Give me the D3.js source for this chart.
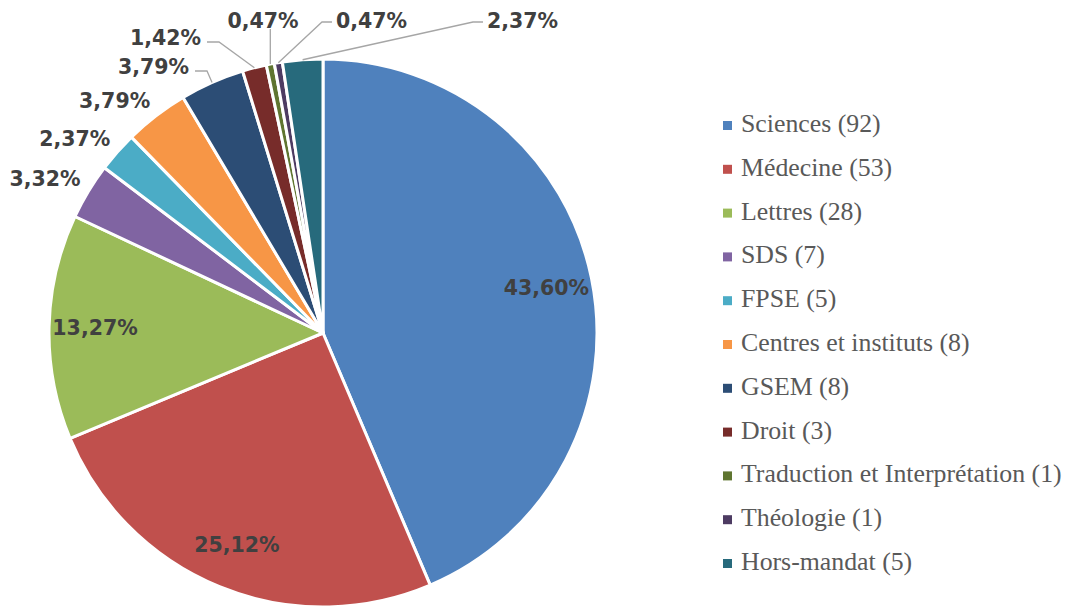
<!DOCTYPE html>
<html>
<head>
<meta charset="utf-8">
<script src="https://cdn.jsdelivr.net/npm/d3@7"></script>
<style>
  body { margin: 0; background: #fff; }
</style>
</head>
<body>
<script>
var width = 1073, height = 608;

var categories = ["Sciences", "Médecine", "Lettres", "SDS", "FPSE", "Centres et instituts",
  "GSEM", "Droit", "Traduction et Interprétation", "Théologie", "Hors-mandat"];
var counts = [92, 53, 28, 7, 5, 8, 8, 3, 1, 1, 5];
var percentLabels = ["43,60%", "25,12%", "13,27%", "3,32%", "2,37%", "3,79%",
  "3,79%", "1,42%", "0,47%", "0,47%", "2,37%"];
var colors = ["#4F81BD", "#C0504D", "#9BBB59", "#8064A2", "#4BACC6", "#F79646",
  "#2C4D75", "#772C2A", "#5F7530", "#4D3B62", "#276A7C"];

// how each label is placed: inside, outside, or with a leader line
var labelMode = ["in", "in", "in", "out", "out", "out", "lead", "lead", "lead", "lead", "lead"];
var leaderSpots = {
  6: {x: 189, y: 74, anchor: "end"},
  7: {x: 201, y: 45, anchor: "end"},
  8: {x: 263, y: 28, anchor: "middle"},
  9: {x: 336, y: 28, anchor: "start"},
  10: {x: 487, y: 28, anchor: "start"}
};

var cx = 323, cy = 333, radius = 274;

var svg = d3.select("body").append("svg")
  .attr("width", width)
  .attr("height", height);

var pie = d3.pie().sort(null).value(function(d) { return d; });
var arcs = pie(counts);

var arc = d3.arc().innerRadius(0).outerRadius(radius);
var labelArc = d3.arc().innerRadius(228).outerRadius(228);
var edgeArc = d3.arc().innerRadius(radius).outerRadius(radius);
var outArc = d3.arc().innerRadius(radius + 8).outerRadius(radius + 8);

var g = svg.append("g")
  .attr("transform", "translate(" + cx + "," + cy + ")");

g.selectAll("path.slice")
  .data(arcs)
  .enter().append("path")
    .attr("class", "slice")
    .attr("d", arc)
    .attr("fill", function(d, i) { return colors[i]; })
    .attr("stroke", "#fff")
    .attr("stroke-width", 3)
    .attr("stroke-linejoin", "round");

var labelFont = "'DejaVu Sans', sans-serif";

// leader lines
arcs.forEach(function(d, i) {
  if (labelMode[i] !== "lead") return;
  var s = leaderSpots[i];
  var p = edgeArc.centroid(d);
  var px = p[0] + cx, py = p[1] + cy;
  var pts;
  if (s.anchor === "end") {
    pts = [[s.x + 6, s.y - 3], [s.x + 18, s.y - 3], [px, py]];
  } else if (s.anchor === "start") {
    pts = [[s.x - 4, s.y - 6], [s.x - 14, s.y - 6], [px, py]];
  } else {
    pts = [[px, s.y + 1], [px, py]];
  }
  svg.append("path")
    .attr("d", d3.line()(pts))
    .attr("fill", "none")
    .attr("stroke", "#A6A6A6")
    .attr("stroke-width", 1.3);
});

// percentage labels
arcs.forEach(function(d, i) {
  var t = svg.append("text")
    .attr("font-family", labelFont)
    .attr("font-weight", "bold")
    .attr("font-size", "20.5px")
    .attr("fill", "#404040")
    .text(percentLabels[i]);
  if (labelMode[i] === "in") {
    var c = labelArc.centroid(d);
    t.attr("x", c[0] + cx).attr("y", c[1] + cy)
      .attr("dy", "0.36em")
      .attr("text-anchor", "middle");
  } else if (labelMode[i] === "out") {
    var o = outArc.centroid(d);
    t.attr("x", o[0] + cx - 1).attr("y", o[1] + cy - 1)
      .attr("text-anchor", "end");
  } else {
    var s = leaderSpots[i];
    t.attr("x", s.x).attr("y", s.y).attr("text-anchor", s.anchor);
  }
});

// legend
var legend = svg.selectAll(".legend")
  .data(categories)
  .enter().append("g")
    .attr("class", "legend")
    .attr("transform", function(d, i) { return "translate(723," + (125.5 + i * 43.8) + ")"; });

legend.append("rect")
  .attr("x", 0)
  .attr("y", -4.5)
  .attr("width", 9)
  .attr("height", 9)
  .attr("fill", function(d, i) { return colors[i]; });

legend.append("text")
  .attr("x", 18)
  .attr("y", 6.5)
  .attr("font-family", "'Liberation Serif', serif")
  .attr("font-size", "25.8px")
  .attr("fill", "#595959")
  .text(function(d, i) { return d + " (" + counts[i] + ")"; });
</script>
</body>
</html>
